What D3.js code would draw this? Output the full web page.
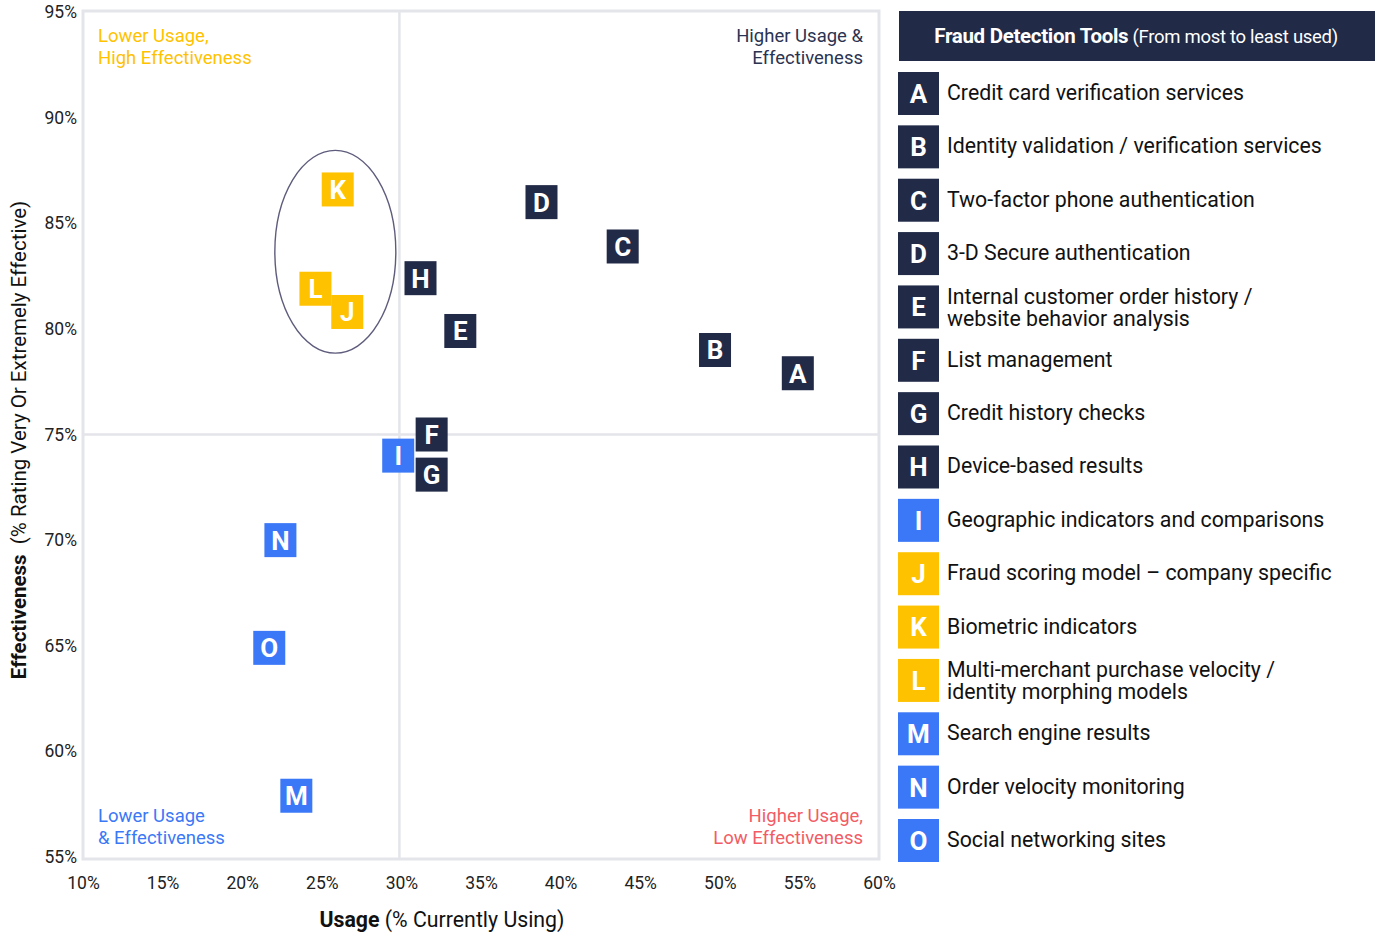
<!DOCTYPE html>
<html>
<head>
<meta charset="utf-8">
<script src="https://cdn.jsdelivr.net/npm/d3@7"></script>
<style>
  body { margin: 0; background: #fff; font-family: Roboto, 'Noto Sans', sans-serif; }
  svg text { font-family: Roboto, 'Noto Sans', sans-serif; }
</style>
</head>
<body>
<div id="chart"></div>
<script>
// Data
const codes = ['A', 'B', 'C', 'D', 'E', 'F', 'G', 'H', 'I', 'J', 'K', 'L', 'M', 'N', 'O'];
const usage = [54.9, 49.7, 43.9, 38.8, 33.7, 31.9, 31.9, 31.2, 29.8, 26.6, 26.0, 24.6, 23.4, 22.4, 21.7];
const effectiveness = [77.9, 79.0, 83.9, 86.0, 79.9, 75.0, 73.1, 82.4, 74.0, 80.8, 86.6, 81.9, 57.9, 70.0, 64.9];
const groups = ['high', 'high', 'high', 'high', 'high', 'high', 'high', 'high', 'low', 'gold', 'gold', 'gold', 'low', 'low', 'low'];
const toolNames = [
  ['Credit card verification services'],
  ['Identity validation / verification services'],
  ['Two-factor phone authentication'],
  ['3-D Secure authentication'],
  ['Internal customer order history /', 'website behavior analysis'],
  ['List management'],
  ['Credit history checks'],
  ['Device-based results'],
  ['Geographic indicators and comparisons'],
  ['Fraud scoring model \u2013 company specific'],
  ['Biometric indicators'],
  ['Multi-merchant purchase velocity /', 'identity morphing models'],
  ['Search engine results'],
  ['Order velocity monitoring'],
  ['Social networking sites'],
];
const xTicks = [10, 15, 20, 25, 30, 35, 40, 45, 50, 55, 60];
const yTicks = [55, 60, 65, 70, 75, 80, 85, 90, 95];

const width = 1381;
const height = 934;
const plot = { l: 83, r: 879, t: 12, b: 857 };

const color = d3.scaleOrdinal()
  .domain(['high', 'low', 'gold'])
  .range(['#212a47', '#3b78f7', '#ffc200']);

const xScale = d3.scaleLinear().domain([10, 60]).range([plot.l, plot.r]);
const yScale = d3.scaleLinear().domain([55, 95]).range([plot.b, plot.t]);

const svg = d3.select('#chart')
  .append('svg')
  .attr('width', width)
  .attr('height', height);

// plot frame
svg.append('rect')
  .attr('x', plot.l)
  .attr('y', plot.t - 1)
  .attr('width', plot.r - plot.l)
  .attr('height', plot.b - plot.t + 3)
  .attr('fill', 'none')
  .attr('stroke', '#e4e5ea')
  .attr('stroke-width', 3);

// quadrant dividers
svg.append('line')
  .attr('x1', xScale(30) - 2).attr('x2', xScale(30) - 2)
  .attr('y1', plot.t).attr('y2', plot.b + 2)
  .attr('stroke', '#e4e5ea').attr('stroke-width', 2.5);
svg.append('line')
  .attr('x1', plot.l).attr('x2', plot.r)
  .attr('y1', yScale(75)).attr('y2', yScale(75))
  .attr('stroke', '#e4e5ea').attr('stroke-width', 2.5);

// axes (labels only)
const xAxis = d3.axisBottom(xScale).tickValues(xTicks).tickFormat((d) => `${d}%`).tickSize(0).tickPadding(0);
const yAxis = d3.axisLeft(yScale).tickValues(yTicks).tickFormat((d) => `${d}%`).tickSize(0).tickPadding(0);

const gx = svg.append('g').attr('transform', `translate(0, ${plot.b + 20})`).call(xAxis);
gx.select('.domain').remove();
gx.selectAll('text').attr('font-size', 17.5).attr('fill', '#222').attr('dy', '0.32em').attr('y', 6);

const gy = svg.append('g').attr('transform', `translate(${plot.l - 6}, 0)`).call(yAxis);
gy.select('.domain').remove();
gy.selectAll('text').attr('font-size', 17.5).attr('fill', '#222');

// axis titles
const xt = svg.append('text')
  .attr('x', 442)
  .attr('y', 927)
  .attr('text-anchor', 'middle')
  .attr('font-size', 21.3)
  .attr('fill', '#111');
xt.append('tspan').attr('font-weight', 'bold').text('Usage');
xt.append('tspan').text(' (% Currently Using)');

const yt = svg.append('text')
  .attr('transform', `translate(26, 440) rotate(-90)`)
  .attr('text-anchor', 'middle')
  .attr('font-size', 20.5)
  .attr('fill', '#111');
yt.append('tspan').attr('font-weight', 'bold').text('Effectiveness');
yt.append('tspan').text('\u00a0 (% Rating Very Or Extremely Effective)');

// quadrant labels
const quadLabels = [
  { lines: ['Lower Usage,', 'High Effectiveness'], x: 98, y: 42, anchor: 'start', fill: '#ffc200' },
  { lines: ['Higher Usage &', 'Effectiveness'], x: 863, y: 42, anchor: 'end', fill: '#2b3352' },
  { lines: ['Lower Usage', '& Effectiveness'], x: 98, y: 822, anchor: 'start', fill: '#3b78f7' },
  { lines: ['Higher Usage,', 'Low Effectiveness'], x: 863, y: 822, anchor: 'end', fill: '#f25c64' },
];
quadLabels.forEach((q) => {
  const t = svg.append('text')
    .attr('x', q.x)
    .attr('y', q.y)
    .attr('text-anchor', q.anchor)
    .attr('font-size', 18.5)
    .attr('fill', q.fill);
  q.lines.forEach((ln, i) => {
    t.append('tspan').attr('x', q.x).attr('dy', i === 0 ? 0 : 22).text(ln);
  });
});

// ellipse around the gold group
svg.append('ellipse')
  .attr('cx', xScale(25.85))
  .attr('cy', yScale(83.65))
  .attr('rx', xScale(25.85) - xScale(22.05))
  .attr('ry', yScale(78.85) - yScale(83.65))
  .attr('fill', 'none')
  .attr('stroke', '#5e5c7c')
  .attr('stroke-width', 1.4);

// markers
const points = codes.map((c, i) => ({ code: c, x: usage[i], y: effectiveness[i], g: groups[i] }));
const mw = 32;
const mh = 34;
const marks = svg.append('g')
  .selectAll('g')
  .data(points)
  .join('g')
  .attr('transform', (d) => `translate(${xScale(d.x)}, ${yScale(d.y)})`);
marks.append('rect')
  .attr('x', -mw / 2)
  .attr('y', -mh / 2)
  .attr('width', mw)
  .attr('height', mh)
  .attr('fill', (d) => color(d.g));
marks.append('text')
  .attr('text-anchor', 'middle')
  .attr('dy', '0.36em')
  .attr('font-size', 26)
  .attr('font-weight', 'bold')
  .attr('fill', '#fff')
  .text((d) => d.code);

// legend
svg.append('rect')
  .attr('x', 899)
  .attr('y', 11)
  .attr('width', 476)
  .attr('height', 50)
  .attr('fill', '#212a47');
const lt = svg.append('text')
  .attr('x', 1136)
  .attr('y', 43)
  .attr('text-anchor', 'middle')
  .attr('fill', '#fff');
lt.append('tspan').attr('font-weight', 'bold').attr('font-size', 20.5).attr('letter-spacing', -0.3).text('Fraud Detection Tools');
lt.append('tspan').attr('font-size', 18.5).attr('letter-spacing', -0.3).text(' (From most to least used)');

const legendY = d3.scaleLinear().domain([0, codes.length - 1]).range([72, 819]);
const items = svg.append('g')
  .selectAll('g')
  .data(points)
  .join('g')
  .attr('transform', (d, i) => `translate(898, ${legendY(i)})`);
items.append('rect')
  .attr('width', 41)
  .attr('height', 43)
  .attr('fill', (d) => color(d.g));
items.append('text')
  .attr('x', 20.5)
  .attr('y', 21.5)
  .attr('dy', '0.36em')
  .attr('text-anchor', 'middle')
  .attr('font-size', 26)
  .attr('font-weight', 'bold')
  .attr('fill', '#fff')
  .text((d) => d.code);
items.each(function (d, i) {
  const lines = toolNames[i];
  const t = d3.select(this).append('text')
    .attr('x', 49)
    .attr('font-size', 21.3)
    .attr('fill', '#111');
  lines.forEach((ln, k) => {
    t.append('tspan')
      .attr('x', 49)
      .attr('y', lines.length === 1 ? 20.5 : 11 + k * 22)
      .attr('dy', '0.35em')
      .text(ln);
  });
});
</script>
</body>
</html>
